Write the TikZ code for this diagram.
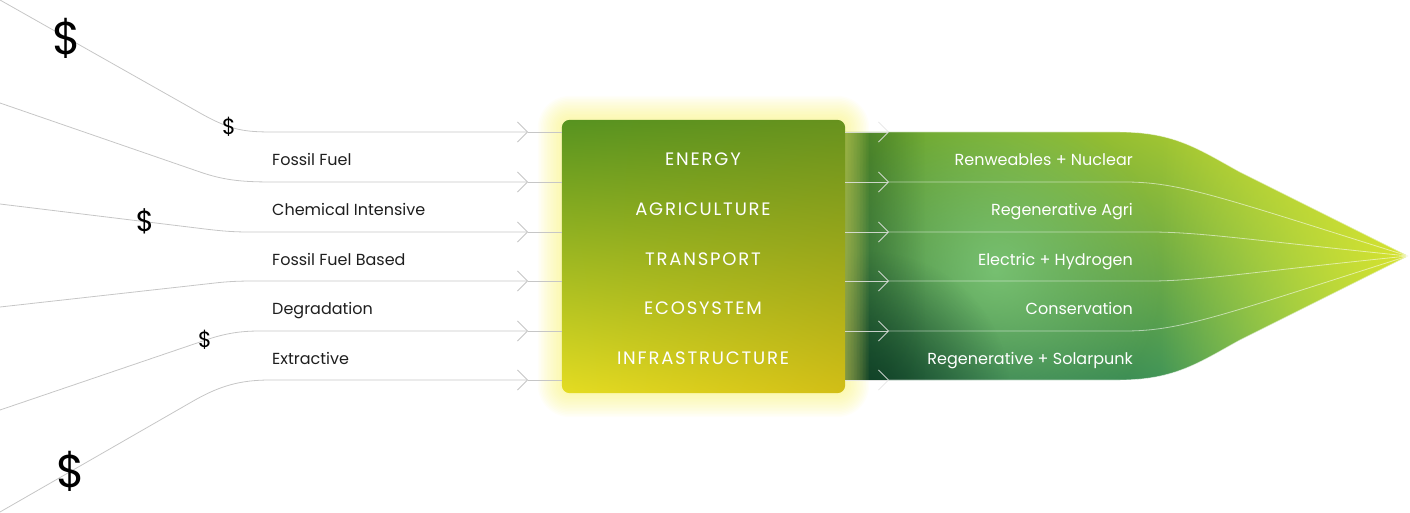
\documentclass[tikz,border=0pt]{standalone}
\usepackage{fontspec}
\setmainfont{Poppins}
\newfontfamily\sectorfont[LetterSpace=10]{Poppins}
\usetikzlibrary{arrows.meta,shadings,fadings,calc}

\definecolor{flowgray}{HTML}{C6C6C6}
\definecolor{textdark}{HTML}{1E1E1E}
\definecolor{boxUL}{HTML}{579320}
\definecolor{boxUR}{HTML}{67921E}
\definecolor{boxLL}{HTML}{E4DC22}
\definecolor{boxLR}{HTML}{D2BE16}
\definecolor{leafUL}{HTML}{5E9E2C}
\definecolor{leafUR}{HTML}{D2E236}
\definecolor{leafLL}{HTML}{1A5A3C}
\definecolor{leafLR}{HTML}{5EC06C}
\definecolor{leafglow}{HTML}{80CC7E}
\definecolor{leafyellow}{HTML}{D6E22E}
\definecolor{leafdark}{HTML}{103E24}
\definecolor{glowyellow}{HTML}{F8F26A}

\tikzfading[name=fadeleft, left color=transparent!100, right color=transparent!0]
\tikzfading[name=faderight, left color=transparent!0, right color=transparent!100]
\tikzfading[name=softspot, inner color=transparent!0, outer color=transparent!100]

\newcommand\leafpath{(830,132) -- (1120,132) .. controls (1175,132) and (1200,150) .. (1240,172) -- (1408,256) -- (1240,340) .. controls (1200,362) and (1175,380) .. (1120,380) -- (830,380) -- cycle}

\begin{document}
\begin{tikzpicture}[x=1pt, y=-1pt,
  flow/.style={draw=flowgray, line width=0.8pt},
  chev/.style={flow, -{Straight Barb[length=10pt, width=20pt]}},
  outflow/.style={draw=white, line width=0.8pt, draw opacity=0.55},
  outchev/.style={draw=white!80!gray, line width=0.8pt, draw opacity=0.85, -{Straight Barb[length=10pt, width=20pt]}},
  usd/.style={text=black, inner sep=0pt},
  inlabel/.style={anchor=base west, inner sep=0pt, text=textdark, font=\fontsize{16}{16}\selectfont},
  sector/.style={anchor=base, inner sep=0pt, text=white, font=\sectorfont\fontsize{18}{18}\selectfont},
  outlabel/.style={anchor=base east, inner sep=0pt, text=white, font=\fontsize{16}{16}\selectfont},
  boxarea/.style={minimum width=283pt, minimum height=273pt, inner sep=0pt}]
\useasboundingbox (0,0) rectangle (1410,513);

\node[boxarea] (box) at (703.5,256.5) {};
\coordinate (tip) at (1408,256);

% outcome funnel
\shade[upper left=leafUL, upper right=leafUR, lower left=leafLL, lower right=leafLR] \leafpath;
\begin{scope}
\clip \leafpath;
\fill[leafglow, opacity=0.8, path fading=softspot] (995,270) circle (170);
\fill[leafdark, opacity=0.85, path fading=softspot] (870,392) circle (140);
\fill[leafyellow, path fading=fadeleft] (1160,132) rectangle (1408,380);
\fill[leafdark, opacity=0.4, path fading=faderight] (845,132) rectangle (925,380);
\end{scope}

% glow round the box
\foreach \g in {1,...,16}
  \fill[glowyellow, opacity=0.045, rounded corners={(8+1.5*\g)*1pt}]
    ($(box.north west)+(-1.5*\g,-1.5*\g)$) rectangle ($(box.south east)+(1.5*\g,1.5*\g)$);

\shade[rounded corners=8pt, upper left=boxUL, upper right=boxUR, lower left=boxLL, lower right=boxLR]
  (box.north west) rectangle (box.south east);

% incoming flows
\coordinate (in1) at (0,0);
\coordinate (in2) at (0,103);
\coordinate (in3) at (0,204);
\coordinate (in4) at (0,307);
\coordinate (in5) at (0,410);
\coordinate (in6) at (0,512);
\coordinate (ar1) at (528,132);
\coordinate (ar2) at (528,182);
\coordinate (ar3) at (528,232);
\coordinate (ar4) at (528,281);
\coordinate (ar5) at (528,331);
\coordinate (ar6) at (528,380);

\draw[chev] (in1) -- (200,113) .. controls (232,131) and (245,132) .. (275,132) -- (ar1);
\draw[chev] (in2) -- (200,172) .. controls (226,181) and (245,182) .. (275,182) -- (ar2);
\draw[chev] (in3) -- (205,229) .. controls (222,231) and (232,232) .. (250,232) -- (ar3);
\draw[chev] (in4) -- (215,283) .. controls (228,281.5) and (238,281) .. (255,281) -- (ar4);
\draw[chev] (in5) -- (200,342) .. controls (222,334) and (238,331) .. (260,331) -- (ar5);
\draw[chev] (in6) -- (195,400) .. controls (220,386) and (240,380) .. (270,380) -- (ar6);
\foreach \i in {1,...,6}
  \draw[flow] (ar\i) -- (ar\i -| box.west);

\node[usd, font=\fontsize{46}{46}\selectfont] (usd1) at (67,38) {\$};
\node[usd, font=\fontsize{22}{22}\selectfont] (usd2) at (229,127) {\$};
\node[usd, font=\fontsize{29}{29}\selectfont] (usd3) at (145,221) {\$};
\node[usd, font=\fontsize{22}{22}\selectfont] (usd4) at (205,340) {\$};
\node[usd, font=\fontsize{46}{46}\selectfont] (usd5) at (71,471) {\$};

\node[inlabel] (in-energy) at (272,166) {Fossil Fuel};
\node[inlabel] (in-agri) at (272,215) {Chemical Intensive};
\node[inlabel] (in-transport) at (272,265) {Fossil Fuel Based};
\node[inlabel] (in-eco) at (272,314) {Degradation};
\node[inlabel] (in-infra) at (272,364) {Extractive};

\node[sector] (sec-energy) at (703,166) {ENERGY};
\node[sector] (sec-agri) at (703,215) {AGRICULTURE};
\node[sector] (sec-transport) at (703,265) {TRANSPORT};
\node[sector] (sec-eco) at (703,314) {ECOSYSTEM};
\node[sector] (sec-infra) at (703,364) {INFRASTRUCTURE};

% outgoing flows
\coordinate (ou1) at (889,132);
\coordinate (ou2) at (889,182);
\coordinate (ou3) at (889,232);
\coordinate (ou4) at (889,281);
\coordinate (ou5) at (889,331);
\coordinate (ou6) at (889,380);
\foreach \i in {1,...,6}
  \draw[outchev] (ou\i -| box.east) -- (ou\i);
\draw[outflow] (ou1) -- (1120,132) .. controls (1175,132) and (1200,150) .. (1240,172) -- (tip);
\draw[outflow] (ou2) -- (1125,182) .. controls (1180,182) and (1220,197) .. (tip);
\draw[outflow] (ou3) -- (1150,232) .. controls (1200,232) and (1250,240) .. (tip);
\draw[outflow] (ou4) -- (1150,281) .. controls (1200,281) and (1250,272) .. (tip);
\draw[outflow] (ou5) -- (1125,331) .. controls (1180,331) and (1220,316) .. (tip);
\draw[outflow] (ou6) -- (1120,380) .. controls (1175,380) and (1200,362) .. (1240,340) -- (tip);

\node[outlabel] (out-energy) at (1133,166) {Renweables + Nuclear};
\node[outlabel] (out-agri) at (1133,215) {Regenerative Agri};
\node[outlabel] (out-transport) at (1133,265) {Electric + Hydrogen};
\node[outlabel] (out-eco) at (1133,314) {Conservation};
\node[outlabel] (out-infra) at (1133,364) {Regenerative + Solarpunk};
\end{tikzpicture}
\end{document}
